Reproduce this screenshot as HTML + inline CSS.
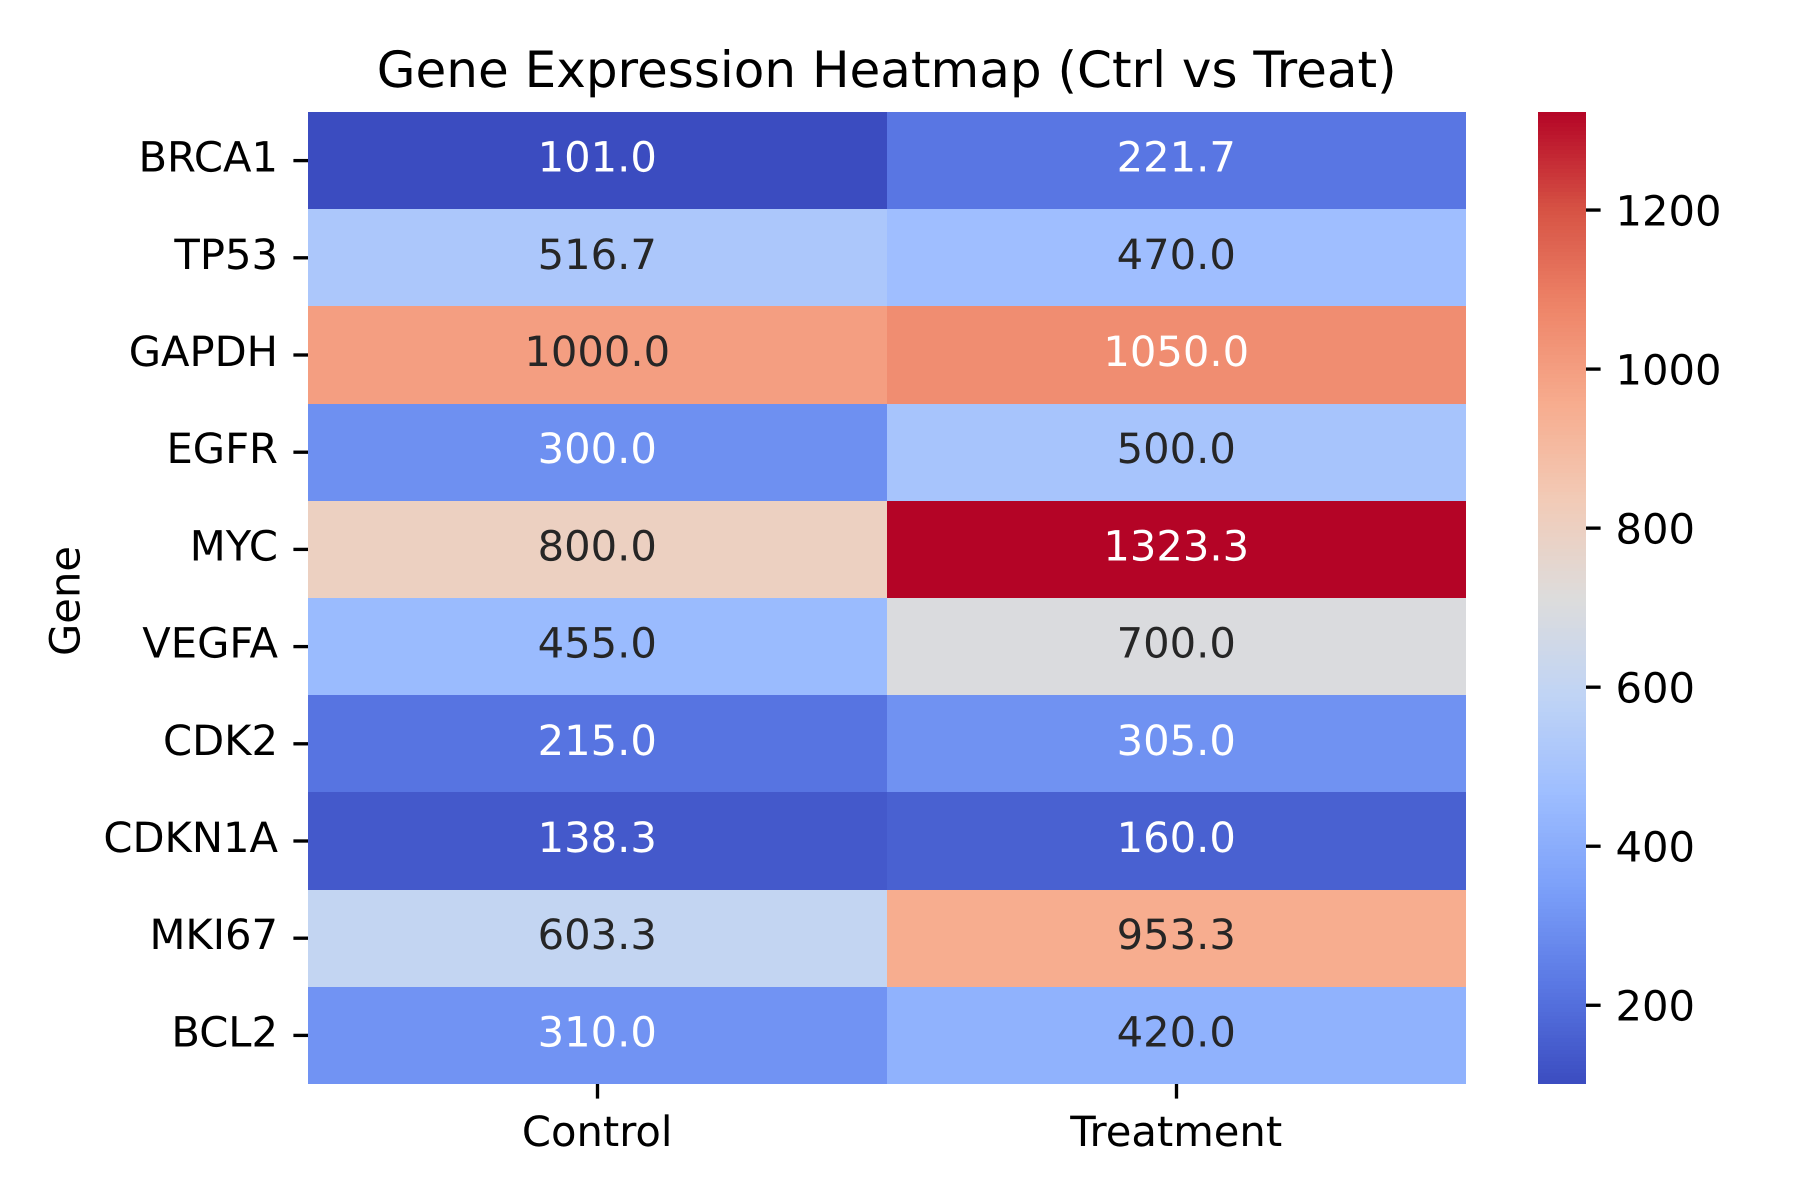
<!DOCTYPE html>
<html lang="en">
<head>
<meta charset="utf-8">
<title>Gene Expression Heatmap (Ctrl vs Treat)</title>
<style>
  html, body { margin: 0; padding: 0; background: #ffffff; }
  svg { display: block; }
  text { font-family: "DejaVu Sans", "Liberation Sans", sans-serif; text-rendering: geometricPrecision; }
</style>
</head>
<body>
<svg id="chart" xmlns="http://www.w3.org/2000/svg" width="1800" height="1200" viewBox="0 0 1800 1200">
  <rect x="0" y="0" width="1800" height="1200" fill="#ffffff"/>
  <text x="886.7" y="87" font-size="50" text-anchor="middle" fill="#000000">Gene Expression Heatmap (Ctrl vs Treat)</text>
  <text transform="translate(79.5 601) rotate(-90)" font-size="41.67" text-anchor="middle" fill="#000000">Gene</text>
  <g id="cells"></g>
  <g id="annotations"></g>
  <g id="y-axis"></g>
  <g id="x-axis"></g>
  <g id="colorbar"></g>
  <g id="colorbar-axis"></g>
</svg>
<script>
const genes = ["BRCA1", "TP53", "GAPDH", "EGFR", "MYC", "VEGFA", "CDK2", "CDKN1A", "MKI67", "BCL2"];
const conditions = ["Control", "Treatment"];
const controlValues = [101.0, 516.7, 1000.0, 300.0, 800.0, 455.0, 215.0, 138.3, 603.3, 310.0];
const treatmentValues = [221.7, 470.0, 1050.0, 500.0, 1323.3, 700.0, 305.0, 160.0, 953.3, 420.0];
const colorbarTicks = [200, 400, 600, 800, 1000, 1200];
const coolwarmStops = ["#3b4cc0", "#5977e3", "#7b9ff9", "#9ebeff", "#c0d4f5", "#dddcdc", "#f2cbb7", "#f7ac8e", "#ee8468", "#d65244", "#b40426"];

const SVG_NS = "http://www.w3.org/2000/svg";
const plot = { left: 308, right: 1466, top: 112, bottom: 1084 };
const bar = { left: 1538, right: 1586 };
const tickLength = 14.6;
const tickWidth = 3.33;
const fontSize = 41.67;
const series = [controlValues, treatmentValues];
const allValues = series.flat();
const vmin = Math.min(...allValues);
const vmax = Math.max(...allValues);

function xBand() { return (plot.right - plot.left) / conditions.length; }
function yBand() { return (plot.bottom - plot.top) / genes.length; }
function xScale(i) { return plot.left + i * xBand(); }
function yScale(i) { return plot.top + i * yBand(); }
function barScale(v) { return plot.bottom - (v - vmin) / (vmax - vmin) * (plot.bottom - plot.top); }

function hexToRgb(h) {
  return [1, 3, 5].map(function (p) { return parseInt(h.substr(p, 2), 16); });
}
function colorRgb(v) {
  const t = Math.min(1, Math.max(0, (v - vmin) / (vmax - vmin))) * (coolwarmStops.length - 1);
  const i = Math.min(coolwarmStops.length - 2, Math.floor(t));
  const a = hexToRgb(coolwarmStops[i]);
  const b = hexToRgb(coolwarmStops[i + 1]);
  return a.map(function (c, k) { return Math.round(c + (b[k] - c) * (t - i)); });
}
function colorCss(v) { return "rgb(" + colorRgb(v).join(",") + ")"; }
function luminance(rgb) {
  const lin = rgb.map(function (c) {
    const s = c / 255;
    return s <= 0.03928 ? s / 12.92 : Math.pow((s + 0.055) / 1.055, 2.4);
  });
  return 0.2126 * lin[0] + 0.7152 * lin[1] + 0.0722 * lin[2];
}
function make(tag, attrs, parent) {
  const el = document.createElementNS(SVG_NS, tag);
  Object.keys(attrs).forEach(function (k) { el.setAttribute(k, attrs[k]); });
  parent.appendChild(el);
  return el;
}

const cellsG = document.getElementById("cells");
const annG = document.getElementById("annotations");
const yAxisG = document.getElementById("y-axis");
const xAxisG = document.getElementById("x-axis");
const barG = document.getElementById("colorbar");
const barAxisG = document.getElementById("colorbar-axis");

series.forEach(function (values, c) {
  values.forEach(function (v, r) {
    const x0 = Math.round(xScale(c));
    const x1 = Math.round(xScale(c + 1));
    const y0 = Math.round(yScale(r));
    const y1 = Math.round(yScale(r + 1));
    const cell = make("rect", {
      x: x0, y: y0, width: x1 - x0, height: y1 - y0,
      fill: colorCss(v), "shape-rendering": "crispEdges"
    }, cellsG);
    
    

    const label = make("text", {
      x: xScale(c) + xBand() / 2 - 0.3, y: yScale(r) + yBand() / 2 + 11,
      "font-size": fontSize, "text-anchor": "middle",
      fill: luminance(colorRgb(v)) > 0.408 ? "#262626" : "#ffffff"
    }, annG);
    
    
    label.textContent = v.toFixed(1);
  });
});

genes.forEach(function (g, r) {
  const cy = yScale(r) + yBand() / 2;
  const tick = make("line", {
    x1: plot.left - tickLength, x2: plot.left, y1: cy, y2: cy,
    stroke: "#000000", "stroke-width": tickWidth
  }, yAxisG);
  
  

  const label = make("text", {
    x: plot.left - 2 * tickLength - 0.8, y: cy + 11,
    "font-size": fontSize, "text-anchor": "end", fill: "#000000"
  }, yAxisG);
  
  
  label.textContent = g;
});

conditions.forEach(function (name, c) {
  const cx = xScale(c) + xBand() / 2;
  const tick = make("line", {
    x1: cx, x2: cx, y1: plot.bottom, y2: plot.bottom + tickLength,
    stroke: "#000000", "stroke-width": tickWidth
  }, xAxisG);
  
  

  const label = make("text", {
    x: cx - 0.3, y: 1146,
    "font-size": fontSize, "text-anchor": "middle", fill: "#000000"
  }, xAxisG);
  
  
  label.textContent = name;
});

const bandCount = 256;
for (let i = 0; i < bandCount; i++) {
  const v0 = vmin + (vmax - vmin) * i / bandCount;
  const v1 = vmin + (vmax - vmin) * (i + 1) / bandCount;
  const top = Math.round(barScale(v1));
  const bottom = Math.round(barScale(v0));
  const band = make("rect", {
    x: bar.left, y: top, width: bar.right - bar.left,
    height: bottom - top,
    fill: colorCss((v0 + v1) / 2), "shape-rendering": "crispEdges"
  }, barG);
  
  
}

colorbarTicks.forEach(function (v) {
  const y = barScale(v);
  const tick = make("line", {
    x1: bar.right, x2: bar.right + tickLength, y1: y, y2: y,
    stroke: "#000000", "stroke-width": tickWidth
  }, barAxisG);
  
  

  const label = make("text", {
    x: 1615.5, y: y + 15.3,
    "font-size": fontSize, "text-anchor": "start", fill: "#000000"
  }, barAxisG);
  
  
  label.textContent = String(v);
});
</script>
</body>
</html>
